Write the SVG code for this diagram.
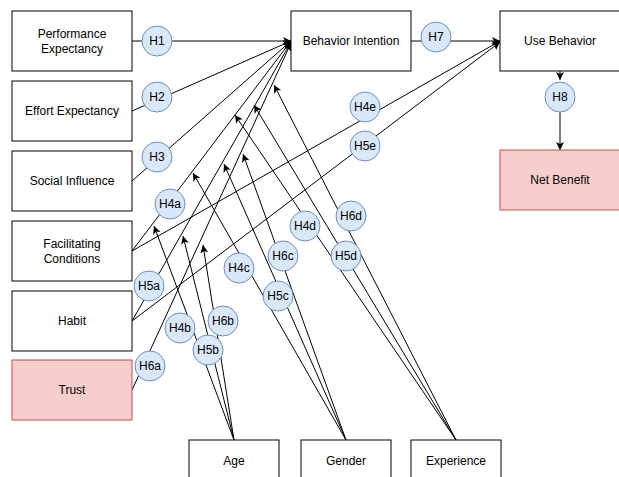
<svg xmlns="http://www.w3.org/2000/svg" width="619" height="477" viewBox="0 0 619 477">
<defs>
<marker id="arr" markerWidth="10" markerHeight="10" refX="8" refY="4" orient="auto" markerUnits="userSpaceOnUse"><path d="M0,0 L8,4 L0,8 L2,4 Z" fill="#000"/></marker>
<style>
.box{fill:#fff;stroke:#000;stroke-width:1}
.pink{fill:#f8cecc;stroke:#b85450;stroke-width:1}
.t{font-family:"Liberation Sans",Arial,sans-serif;font-size:12px;fill:#000;text-anchor:middle}
.c circle{fill:#dae8fc;stroke:#6c8ebf;stroke-width:1}
#connectors line{stroke:#000;stroke-width:1;fill:none}
.a{marker-end:url(#arr)}
</style>
</defs>
<rect width="619" height="477" fill="#fff"/>
<g id="connectors">
<line class="a" x1="132" y1="41" x2="291" y2="41"/>
<line class="a" x1="132" y1="111" x2="291" y2="41"/>
<line class="a" x1="132" y1="181" x2="291" y2="41"/>
<line class="a" x1="132" y1="251" x2="291" y2="41"/>
<line class="a" x1="132" y1="321" x2="291" y2="42"/>
<line class="a" x1="132" y1="390" x2="291" y2="43"/>
<line class="a" x1="132" y1="251" x2="500" y2="41"/>
<line class="a" x1="132" y1="321" x2="500" y2="42"/>
<line class="a" x1="411" y1="41" x2="500" y2="41"/>
<line class="a" x1="560" y1="71" x2="560" y2="80"/>
<line class="a" x1="560" y1="112" x2="560" y2="150"/>
<line class="a" x1="234" y1="440" x2="154" y2="226"/>
<line class="a" x1="234" y1="440" x2="183" y2="236"/>
<line class="a" x1="234" y1="440" x2="203" y2="245"/>
<line class="a" x1="346" y1="440" x2="193" y2="173"/>
<line class="a" x1="346" y1="440" x2="224" y2="164"/>
<line class="a" x1="346" y1="440" x2="243" y2="154"/>
<line class="a" x1="456" y1="440" x2="235" y2="115"/>
<line class="a" x1="456" y1="440" x2="254" y2="105"/>
<line class="a" x1="456" y1="440" x2="274" y2="85"/>
</g>
<g id="labels">
<g id="lH1" class="c"><circle cx="157" cy="41" r="15"/><text class="t" x="157" y="45">H1</text></g>
<g id="lH2" class="c"><circle cx="157" cy="97" r="15"/><text class="t" x="157" y="101">H2</text></g>
<g id="lH3" class="c"><circle cx="157" cy="157" r="15"/><text class="t" x="157" y="161">H3</text></g>
<g id="lH4a" class="c"><circle cx="170" cy="204" r="15"/><text class="t" x="170" y="208">H4a</text></g>
<g id="lH5a" class="c"><circle cx="149" cy="286" r="15"/><text class="t" x="149" y="290">H5a</text></g>
<g id="lH6a" class="c"><circle cx="150" cy="366" r="15"/><text class="t" x="150" y="370">H6a</text></g>
<g id="lH4b" class="c"><circle cx="180" cy="328" r="15"/><text class="t" x="180" y="332">H4b</text></g>
<g id="lH6b" class="c"><circle cx="223" cy="321" r="15"/><text class="t" x="223" y="325">H6b</text></g>
<g id="lH5b" class="c"><circle cx="208" cy="350" r="15"/><text class="t" x="208" y="354">H5b</text></g>
<g id="lH4c" class="c"><circle cx="239" cy="268" r="15"/><text class="t" x="239" y="272">H4c</text></g>
<g id="lH6c" class="c"><circle cx="283" cy="256" r="15"/><text class="t" x="283" y="260">H6c</text></g>
<g id="lH5c" class="c"><circle cx="278" cy="296" r="15"/><text class="t" x="278" y="300">H5c</text></g>
<g id="lH4d" class="c"><circle cx="305" cy="226" r="15"/><text class="t" x="305" y="230">H4d</text></g>
<g id="lH6d" class="c"><circle cx="351" cy="216" r="15"/><text class="t" x="351" y="220">H6d</text></g>
<g id="lH5d" class="c"><circle cx="346" cy="256" r="15"/><text class="t" x="346" y="260">H5d</text></g>
<g id="lH4e" class="c"><circle cx="365" cy="107" r="15"/><text class="t" x="365" y="111">H4e</text></g>
<g id="lH5e" class="c"><circle cx="365" cy="146" r="15"/><text class="t" x="365" y="150">H5e</text></g>
<g id="lH7" class="c"><circle cx="436" cy="37" r="15"/><text class="t" x="436" y="41">H7</text></g>
<g id="lH8" class="c"><circle cx="560" cy="97" r="15"/><text class="t" x="560" y="101">H8</text></g>
</g>
<g id="pe"><rect class="box" x="12" y="11" width="120" height="60"/><text class="t" x="72" y="38">Performance</text><text class="t" x="72" y="53">Expectancy</text></g>
<g id="ee"><rect class="box" x="12" y="81" width="120" height="60"/><text class="t" x="72" y="115">Effort Expectancy</text></g>
<g id="si"><rect class="box" x="12" y="151" width="120" height="60"/><text class="t" x="72" y="185">Social Influence</text></g>
<g id="fc"><rect class="box" x="12" y="221" width="120" height="60"/><text class="t" x="72" y="248">Facilitating</text><text class="t" x="72" y="263">Conditions</text></g>
<g id="habit"><rect class="box" x="12" y="291" width="120" height="60"/><text class="t" x="72" y="325">Habit</text></g>
<g id="trust"><rect class="pink" x="12" y="360" width="120" height="60"/><text class="t" x="72" y="394">Trust</text></g>
<g id="bi"><rect class="box" x="291" y="11" width="120" height="60"/><text class="t" x="351" y="45">Behavior Intention</text></g>
<g id="ub"><rect class="box" x="500" y="11" width="120" height="60"/><text class="t" x="560" y="45">Use Behavior</text></g>
<g id="nb"><rect class="pink" x="500" y="150" width="120" height="60"/><text class="t" x="560" y="184">Net Benefit</text></g>
<g id="age"><rect class="box" x="189" y="440" width="90" height="60"/><text class="t" x="234" y="465">Age</text></g>
<g id="gender"><rect class="box" x="301" y="440" width="90" height="60"/><text class="t" x="346" y="465">Gender</text></g>
<g id="experience"><rect class="box" x="411" y="440" width="90" height="60"/><text class="t" x="456" y="465">Experience</text></g>
</svg>
